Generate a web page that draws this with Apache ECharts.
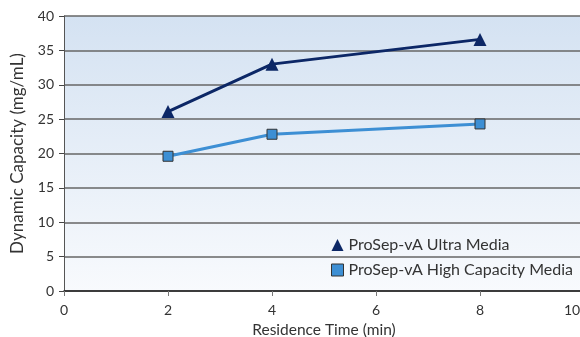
<!DOCTYPE html>
<html><head><meta charset="utf-8">
<script src="https://cdn.jsdelivr.net/npm/echarts@6/dist/echarts.min.js"></script>
<style>html,body{margin:0;padding:0;background:#fff}#c{width:580px;height:337px}</style>
</head><body><div id="c"></div>
<script>
const seriesNames = ['ProSep-vA Ultra Media', 'ProSep-vA High Capacity Media'];
const residenceTime = [2, 4, 8];
const ultraValues = [26.1, 33.0, 36.6];
const highCapValues = [19.6, 22.8, 24.3];
const xTicks = [0, 2, 4, 6, 8, 10];
const yTicks = [0, 5, 10, 15, 20, 25, 30, 35, 40];

const font = 'Lato, "Open Sans", sans-serif';
const xMax = xTicks[xTicks.length - 1];
const chart = echarts.init(document.getElementById('c'), null, {renderer: 'canvas'});
chart.setOption({
  animation: false,
  textStyle: {fontFamily: font},
  grid: {
    left: 64, right: -4, top: 16, bottom: 46, show: true, borderWidth: 0,
    outerBoundsMode: 'none', containLabel: false,
    backgroundColor: new echarts.graphic.LinearGradient(0, 0, 0, 1, [
      {offset: 0, color: '#d4e2f2'}, {offset: 1, color: '#f8fafd'}])
  },
  legend: {
    left: 326, top: 232, orient: 'vertical', itemGap: 9, itemWidth: 12, itemHeight: 12,
    textStyle: {fontFamily: font, fontSize: 16, color: '#333'},
    data: [
      {name: seriesNames[0], icon: 'triangle', itemStyle: {color: '#0c2766', borderWidth: 0}},
      {name: seriesNames[1], icon: 'rect', itemStyle: {color: '#3d8fd4', borderColor: '#333', borderWidth: 1}}
    ]
  },
  xAxis: {
    type: 'value', min: xTicks[0], max: xMax, interval: 2,
    name: 'Residence Time (min)', nameLocation: 'middle', nameGap: 30,
    nameTextStyle: {fontFamily: font, fontSize: 15.5, color: '#333'},
    axisLine: {lineStyle: {color: '#222', width: 1.5}},
    axisTick: {show: true, length: 5, lineStyle: {color: '#777'}},
    axisLabel: {
      fontFamily: font, fontSize: 14, color: '#333', margin: 12,
      formatter: v => v === xMax ? '{last|' + v + '}' : String(v),
      rich: {last: {fontFamily: font, fontSize: 14, color: '#333', padding: [0, 24, 0, 0]}}
    },
    splitLine: {show: false}
  },
  yAxis: {
    type: 'value', min: yTicks[0], max: yTicks[yTicks.length - 1], interval: 5,
    name: 'Dynamic Capacity (mg/mL)', nameLocation: 'middle', nameGap: 38,
    nameTextStyle: {fontFamily: font, fontSize: 17, color: '#333'},
    axisLine: {show: true, lineStyle: {color: '#555', width: 1}},
    axisTick: {show: true, length: 5, lineStyle: {color: '#444'}},
    axisLabel: {fontFamily: font, fontSize: 14, color: '#333', margin: 10},
    splitLine: {show: true, lineStyle: {color: '#666', width: 1.5}}
  },
  series: [
    {
      name: seriesNames[0], type: 'line',
      data: residenceTime.map((x, i) => [x, ultraValues[i]]),
      symbol: 'triangle', symbolSize: 13,
      lineStyle: {color: '#0c2766', width: 3},
      itemStyle: {color: '#0c2766', borderWidth: 0}
    },
    {
      name: seriesNames[1], type: 'line',
      data: residenceTime.map((x, i) => [x, highCapValues[i]]),
      symbol: 'rect', symbolSize: 10,
      lineStyle: {color: '#3d8fd4', width: 3},
      itemStyle: {color: '#3d8fd4', borderColor: '#333', borderWidth: 1}
    }
  ]
});
</script></body></html>
